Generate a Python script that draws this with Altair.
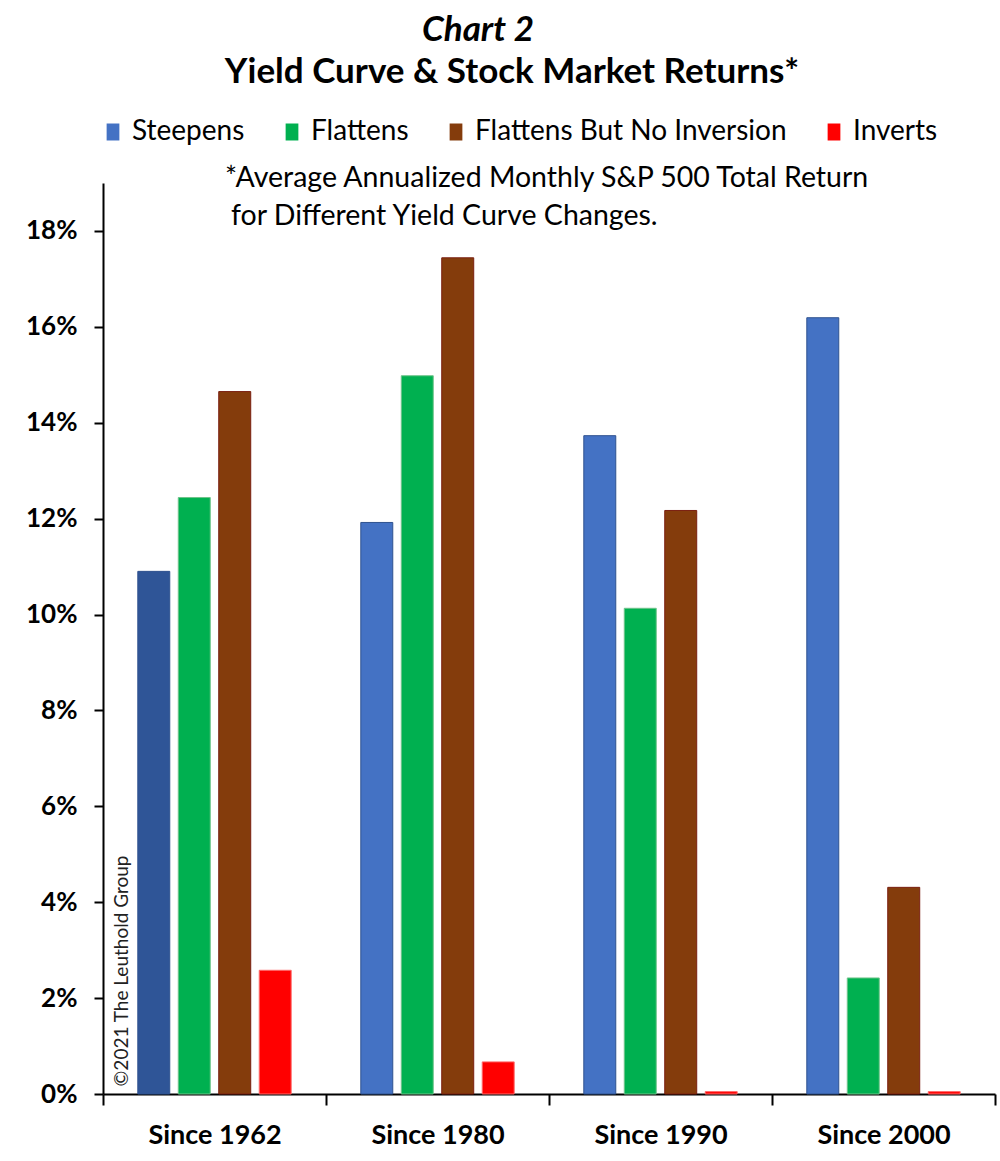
import altair as alt
import pandas as pd

# Average annualized monthly S&P 500 total return (%) by yield curve regime
periods = ["Since 1962", "Since 1980", "Since 1990", "Since 2000"]
series = ["Steepens", "Flattens", "Flattens But No Inversion", "Inverts"]
steepens = [10.9, 11.92, 13.73, 16.19]
flattens = [12.44, 14.98, 10.13, 2.42]
flattens_no_inversion = [14.65, 17.44, 12.17, 4.31]
inverts = [2.58, 0.67, 0.05, 0.05]

fill_colors = ["#4472C4", "#00B050", "#843C0C", "#FF0000"]
edge_colors = ["#2F528F", "#6FC48A", "#7A1F10", "#FF6B6B"]

rows = []
for i, p in enumerate(periods):
    for s, vals in zip(series, [steepens, flattens, flattens_no_inversion, inverts]):
        rows.append({"period": p, "series": s, "value": vals[i]})
df = pd.DataFrame(rows)

FONT = "Lato"

bars = alt.Chart(df).mark_bar(strokeWidth=1).encode(
    x=alt.X(
        "period:N",
        sort=periods,
        title=None,
        scale=alt.Scale(paddingInner=0, paddingOuter=0),
        axis=alt.Axis(
            labelAngle=0,
            labelFont=FONT,
            labelFontSize=27,
            labelFontWeight="bold",
            labelColor="black",
            labelPadding=17,
            tickBand="extent",
            tickSize=11,
            tickWidth=2,
            tickColor="black",
            domainColor="black",
            domainWidth=2,
        ),
    ),
    xOffset=alt.XOffset(
        "series:N",
        sort=series,
        scale=alt.Scale(paddingInner=0.21, paddingOuter=0.86),
    ),
    y=alt.Y(
        "value:Q",
        title=None,
        scale=alt.Scale(domain=[0, 19], nice=False),
        axis=alt.Axis(
            values=[0, 2, 4, 6, 8, 10, 12, 14, 16, 18],
            labelExpr="datum.value + '%'",
            labelFont=FONT,
            labelFontSize=26,
            labelFontWeight="bold",
            labelColor="black",
            labelPadding=17,
            tickSize=9,
            tickWidth=2,
            tickColor="black",
            domainColor="black",
            domainWidth=2,
            grid=False,
        ),
    ),
    color=alt.condition(
        (alt.datum.period == "Since 1962") & (alt.datum.series == "Steepens"),
        alt.value("#2F5597"),
        alt.Color(
            "series:N",
            sort=series,
            scale=alt.Scale(domain=series, range=fill_colors),
            legend=alt.Legend(
                title=None,
                orient="none",
                direction="horizontal",
                legendX=-4,
                legendY=-65,
                symbolType="M-0.75,-1H0.75V1H-0.75Z",
                symbolSize=289,
                symbolStrokeWidth=0,
                symbolOpacity=1,
                labelFont=FONT,
                labelFontSize=28,
                labelColor="black",
                labelLimit=0,
                labelOffset=5,
                columnPadding=33,
                padding=0,
            ),
        ),
    ),
    stroke=alt.Stroke(
        "series:N",
        sort=series,
        scale=alt.Scale(domain=series, range=edge_colors),
        legend=None,
    ),
)


def label(text, x, y, size, weight="normal", style="normal", align="left", angle=0, color="black"):
    return alt.Chart(pd.DataFrame({"t": [text]})).mark_text(
        font=FONT,
        fontSize=size,
        fontWeight=weight,
        fontStyle=style,
        align=align,
        baseline="middle",
        angle=angle,
        color=color,
    ).encode(x=alt.value(x), y=alt.value(y), text="t:N")


title1 = label("Chart 2", 375, -153, 35, weight="bold", style="italic", align="center")
title2 = label("Yield Curve & Stock Market Returns*", 409, -111, 35, weight="bold", align="center")
note1 = label("*Average Annualized Monthly S&P 500 Total Return", 122, -5, 28.5)
note2 = label("for Different Yield Curve Changes.", 128, 33, 28.5)
credit = label("©2021 The Leuthold Group", 19, 788, 19, align="center", angle=270, color="#222222")

chart = alt.layer(bars, title1, title2, note1, note2, credit).properties(
    width=892,
    height=911,
    padding={"left": 103, "top": 183, "right": 5, "bottom": 67},
    autosize="none",
    background="white",
).configure_view(stroke=None)

chart.save("out.html", embed_options={"renderer": "svg", "actions": False})
